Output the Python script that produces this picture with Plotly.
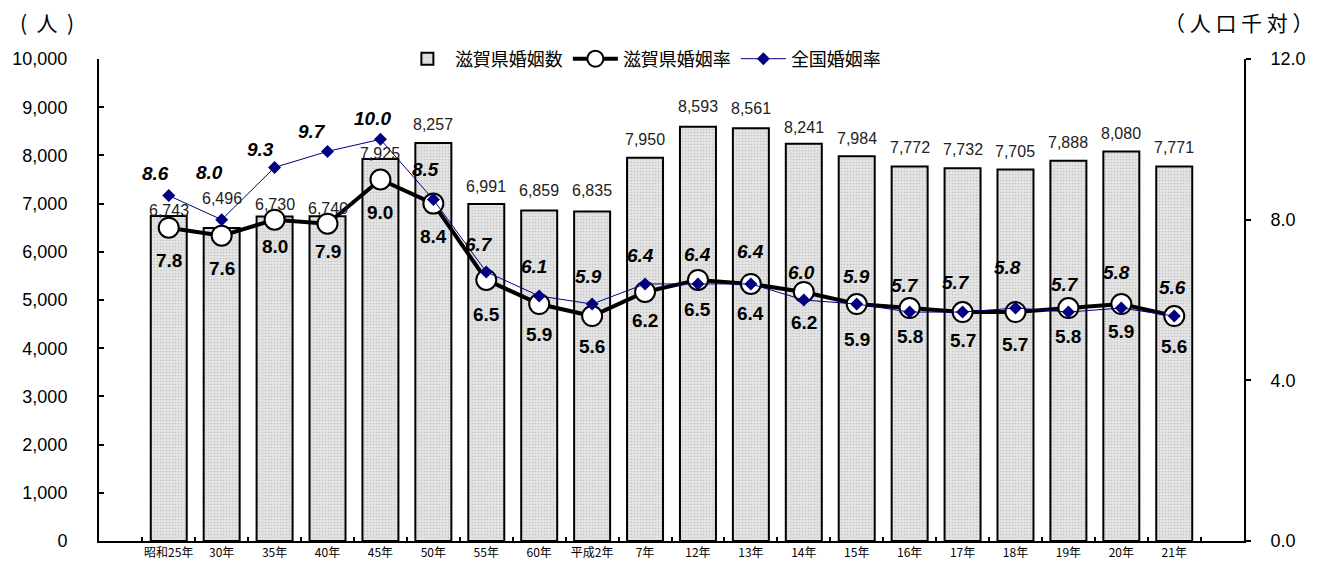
import plotly.graph_objects as go

categories = ["昭和25年", "30年", "35年", "40年", "45年", "50年", "55年", "60年", "平成2年", "7年",
              "12年", "13年", "14年", "15年", "16年", "17年", "18年", "19年", "20年", "21年"]
marriages = [6743, 6496, 6730, 6740, 7925, 8257, 6991, 6859, 6835, 7950,
             8593, 8561, 8241, 7984, 7772, 7732, 7705, 7888, 8080, 7771]
shiga_rate = [7.8, 7.6, 8.0, 7.9, 9.0, 8.4, 6.5, 5.9, 5.6, 6.2,
              6.5, 6.4, 6.2, 5.9, 5.8, 5.7, 5.7, 5.8, 5.9, 5.6]
national_rate = [8.6, 8.0, 9.3, 9.7, 10.0, 8.5, 6.7, 6.1, 5.9, 6.4,
                 6.4, 6.4, 6.0, 5.9, 5.7, 5.7, 5.8, 5.7, 5.8, 5.6]

# label placement (pixel offsets, style only)
bar_lbl_dy = [5, 29, 12, 8, 6, 19, 18, 20, 21, 18, 20, 20, 16, 18, 19, 19, 18, 18, 18, 19]
shiga_lbl_dy = [33, 33, 27, 28, 33, 33, 35, 30, 30, 29, 30, 30, 31, 35, 28, 28, 32, 28, 27, 30]
nat_lbl_dy = [22, 47, 18, 20, 21, 30, 27, 29, 28, 28, 29, 32, 28, 28, 27, 30, 41, 28, 36, 29]
nat_lbl_dx = [-13, -12, -14, -16, -8, -8, -7, -5, -4, -5, 0, 0, -2, 0, -5, -7, -8, -3, -5, -2]

FONT = "Liberation Sans, Arial, Noto Sans CJK JP"
CJK = "Noto Sans CJK JP, Liberation Sans"

fig = go.Figure()
fig.add_trace(go.Bar(
    x=categories, y=marriages, name="滋賀県婚姻数",
    marker=dict(color="#dcdcdc", line=dict(color="black", width=2),
                pattern=dict(shape=".", fgcolor="#a8a8a8", bgcolor="#e4e4e4", size=3, solidity=0.25)),
))
fig.add_trace(go.Scatter(
    x=categories, y=shiga_rate, name="滋賀県婚姻率", yaxis="y2",
    mode="lines+markers",
    line=dict(color="black", width=4),
    marker=dict(symbol="circle", size=20, color="white", line=dict(color="black", width=2)),
    cliponaxis=False,
))
fig.add_trace(go.Scatter(
    x=categories, y=national_rate, name="全国婚姻率", yaxis="y2",
    mode="lines+markers",
    line=dict(color="#000080", width=1),
    marker=dict(symbol="diamond", size=10, color="#000080"),
    cliponaxis=False,
))

annotations = []
for c, v, dy in zip(categories, marriages, bar_lbl_dy):
    annotations.append(dict(
        x=c, y=v, xref="x", yref="y", text=f"{v:,}", showarrow=False,
        yanchor="middle", yshift=dy, font=dict(size=16, color="#222", family=FONT)))
for c, v, dy in zip(categories, shiga_rate, shiga_lbl_dy):
    annotations.append(dict(
        x=c, y=v, xref="x", yref="y2", text=f"<b>{v:.1f}</b>", showarrow=False,
        yanchor="middle", yshift=-dy, font=dict(size=19, color="black", family=FONT)))
for c, v, dy, dx in zip(categories, national_rate, nat_lbl_dy, nat_lbl_dx):
    annotations.append(dict(
        x=c, y=v, xref="x", yref="y2", text=f"<b><i>{v:.1f}</i></b>", showarrow=False,
        yanchor="middle", yshift=dy, xshift=dx, font=dict(size=19, color="black", family=FONT)))
annotations.append(dict(x=-0.071, y=1.077, xref="paper", yref="paper",
                        text="(\u00a0\u00a0人\u00a0\u00a0)",
                        showarrow=False, xanchor="left", yanchor="middle",
                        font=dict(size=21, color="black", family=CJK)))
annotations.append(dict(x=1.063, y=1.077, xref="paper", yref="paper", text="（ 人 口 千 対 ）",
                        showarrow=False, xanchor="right", yanchor="middle",
                        font=dict(size=21, color="black", family=CJK)))

fig.update_layout(
    width=1315, height=561,
    margin=dict(l=91, r=79, t=51, b=28, autoexpand=False),
    paper_bgcolor="white", plot_bgcolor="white",
    font=dict(family=FONT, color="black"),
    bargap=0.32,
    showlegend=True,
    legend=dict(orientation="h", x=0.475, xanchor="center", y=1.0, yanchor="middle",
                font=dict(size=18, family=CJK), bgcolor="rgba(0,0,0,0)", itemwidth=45),
    xaxis=dict(showline=True, linecolor="black", linewidth=2, ticks="inside", ticklen=4,
               tickson="boundaries", tickcolor="black", tickwidth=2, tickangle=0,
               automargin=False,
               tickfont=dict(size=12, family=CJK), showgrid=False),
    yaxis=dict(range=[0, 10000], dtick=1000, tickformat=",", showline=True, linecolor="black",
               linewidth=2, ticks="inside", ticklen=5, tickcolor="black", tickwidth=2,
               automargin=False,
               tickfont=dict(size=18), showgrid=False, zeroline=False, ticklabelstandoff=26),
    yaxis2=dict(range=[0, 12], dtick=4, tickformat=".1f", overlaying="y", side="right",
                showline=True, linecolor="black", linewidth=2, ticks="outside", ticklen=5,
                tickcolor="black", tickwidth=2, tickfont=dict(size=18), showgrid=False,
                automargin=False,
                zeroline=False, ticklabelstandoff=16),
    annotations=annotations,
)

fig.write_html("out.html")
